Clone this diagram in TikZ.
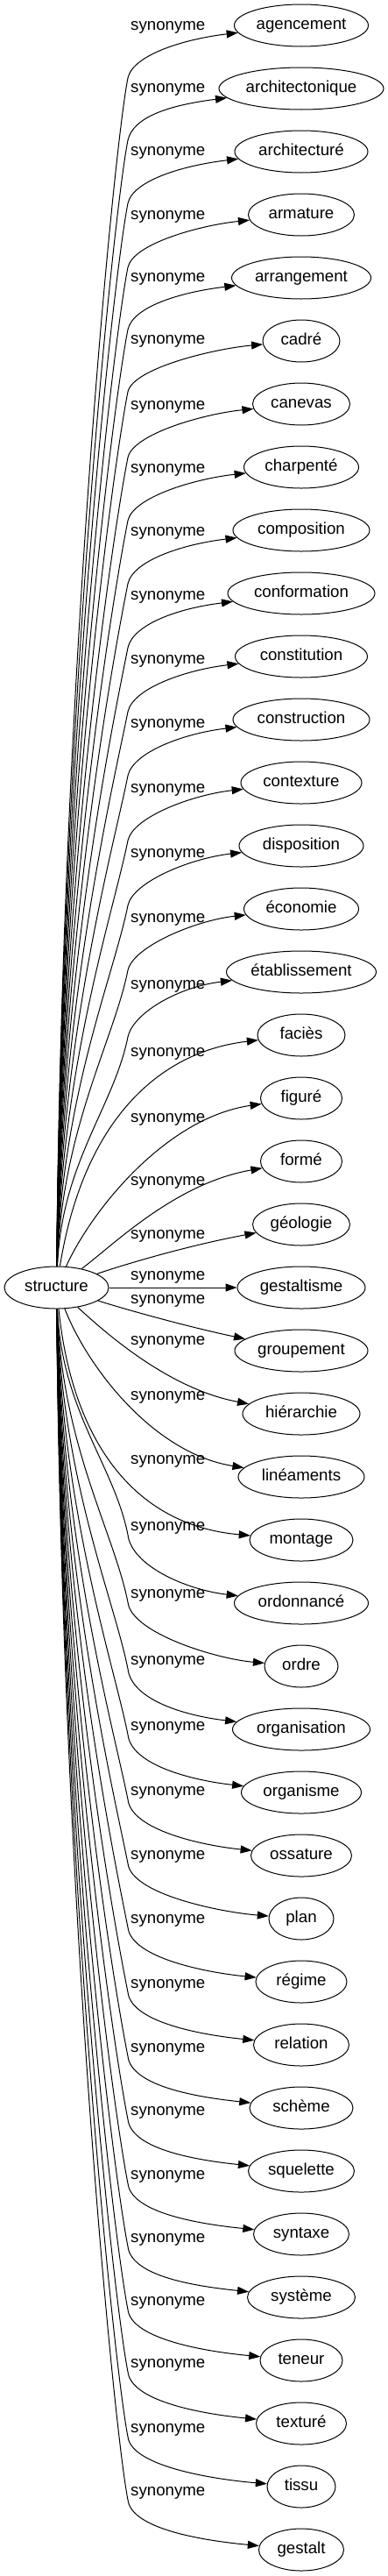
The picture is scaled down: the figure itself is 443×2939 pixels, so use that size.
\documentclass[tikz,border=0pt]{standalone}
\usepackage{fontspec}
\setmainfont{Liberation Sans}
\usetikzlibrary{arrows.meta,shapes.geometric,calc}

\begin{document}
\begin{tikzpicture}[x=1pt,y=1pt,
  word/.style={draw,ellipse,line width=1pt,inner sep=0pt,minimum height=48pt,
    text height=13.5pt,text depth=3.8pt,font=\fontsize{18.67}{22}\selectfont},
  lbl/.style={anchor=mid west,inner sep=0pt,font=\fontsize{18.67}{22}\selectfont},
  syn/.style={line width=1pt,-{Triangle[length=13pt,width=9pt]}}]
  \useasboundingbox (0,0) rectangle (443,-2939);
  \node[word,minimum width=119pt] (s) at (64.5,-1469) {structure};
  \foreach \n/\w [count=\i from 0] in {agencement/153,architectonique/188,architecturé/152,armature/121,
      arrangement/159,cadré/88,canevas/111,charpenté/131,composition/156,conformation/168,
      constitution/151,construction/156,contexture/138,disposition/142,économie/131,
      établissement/171,faciès/100,figuré/93,formé/93,géologie/111,gestaltisme/146,
      groupement/152,hiérarchie/134,linéaments/144,montage/118,ordonnancé/153,ordre/84,
      organisation/157,organisme/137,ossature/115,plan/74,régime/104,relation/109,
      schème/118,squelette/121,syntaxe/109,système/123,teneur/94,texturé/103,tissu/78,gestalt/97}
    \node[word,minimum width=\w pt] (t\i) at (344,{-29-72*\i}) {\n};
  \foreach \ly [count=\i from 0] in {32,103,175,248,319,390,465,537,609,682,755,828,902,976,1050,1126,
      1203,1278,1350,1411,1458,1485,1532,1595,1668,1744,1821,1897,1972,2046,2119,2192,2266,
      2339,2411,2484,2556,2628,2699,2773,2845}
    \node[lbl] (l\i) at (149,-\ly) {synonyme};
  \foreach \i/\ly/\w in {0/32/153,1/103/188,2/175/152,3/248/121,4/319/159,5/390/88,6/465/111,
      7/537/131,8/609/156,9/682/168,10/755/151,11/828/156,12/902/138,13/976/142,14/1050/131,15/1126/171}
    \draw[syn] (s) .. controls +(6,{(1412-\ly)/2}) and +(-16,-80) .. (146,{-\ly-57})
      .. controls +(6,27) and ($(t\i.west)+(-55,{-0.1*\w})$) .. (t\i);
  \foreach \i/\ax/\ay/\bx/\by in {16/95/1280/180/1200,17/105/1380/190/1275,18/130/1420/200/1350,
      19/150/1440/220/1420,21/150/1496/220/1515,22/125/1525/195/1585,23/100/1560/175/1658,24/82/1640/150/1740}
    \draw[syn] (s) .. controls (\ax,-\ay) and (\bx,-\by) .. (t\i);
  \draw[syn] (s) -- (t20);
  \foreach \i/\ly/\w in {25/1744/153,26/1821/84,27/1897/157,28/1972/137,29/2046/115,30/2119/74,
      31/2192/104,32/2266/109,33/2339/118,34/2411/121,35/2484/109,36/2556/123,37/2628/94,
      38/2699/103,39/2773/78,40/2845/97}
    \draw[syn] (s) .. controls +(6,{-(\ly-1462)/2}) and +(-16,80) .. (146,{-\ly-7})
      .. controls +(4,-35) and ($(t\i.west)+(-55,{0.1*\w})$) .. (t\i);
\end{tikzpicture}
\end{document}
